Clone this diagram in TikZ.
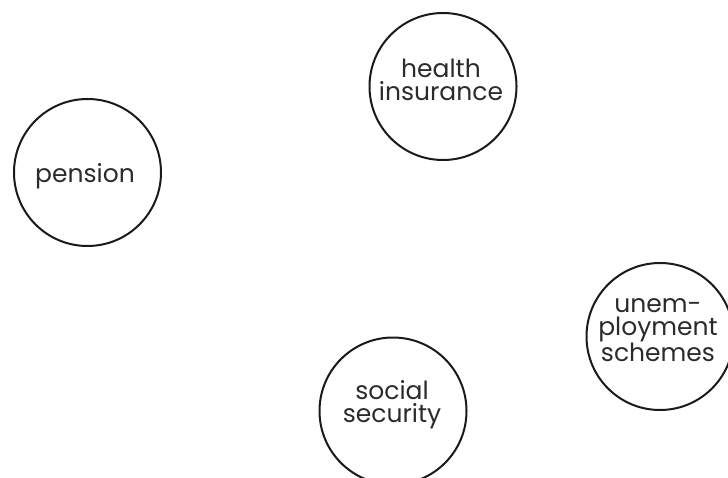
\documentclass[tikz,border=0pt]{standalone}
\usepackage{fontspec}
\setmainfont{Poppins}
\definecolor{ink}{HTML}{1A1A1A}
\definecolor{txt}{HTML}{2B2B2B}
\begin{document}
\begin{tikzpicture}[x=1pt,y=-1pt,
  bubble/.style={circle,draw=ink,line width=2pt,minimum size=147pt,inner sep=0pt},
  lbl/.style={text=txt,align=center,font=\fontsize{25}{23}\selectfont,inner sep=0pt}]
\useasboundingbox (0,0) rectangle (728,478);
\node[bubble] (pension) at (87.5,172.5) {};
\node[lbl] (pensiontxt) at (85,176) {pension};
\node[bubble] (health) at (443,86.5) {};
\node[lbl] (healthtxt) at (441,80) {health\\insurance};
\node[bubble] (unemp) at (660,336.5) {};
\node[lbl] (unemptxt) at (658,330) {unem-\\ployment\\schemes};
\node[bubble] (social) at (393,411) {};
\node[lbl] (socialtxt) at (392,405) {social\\security};
\end{tikzpicture}
\end{document}
